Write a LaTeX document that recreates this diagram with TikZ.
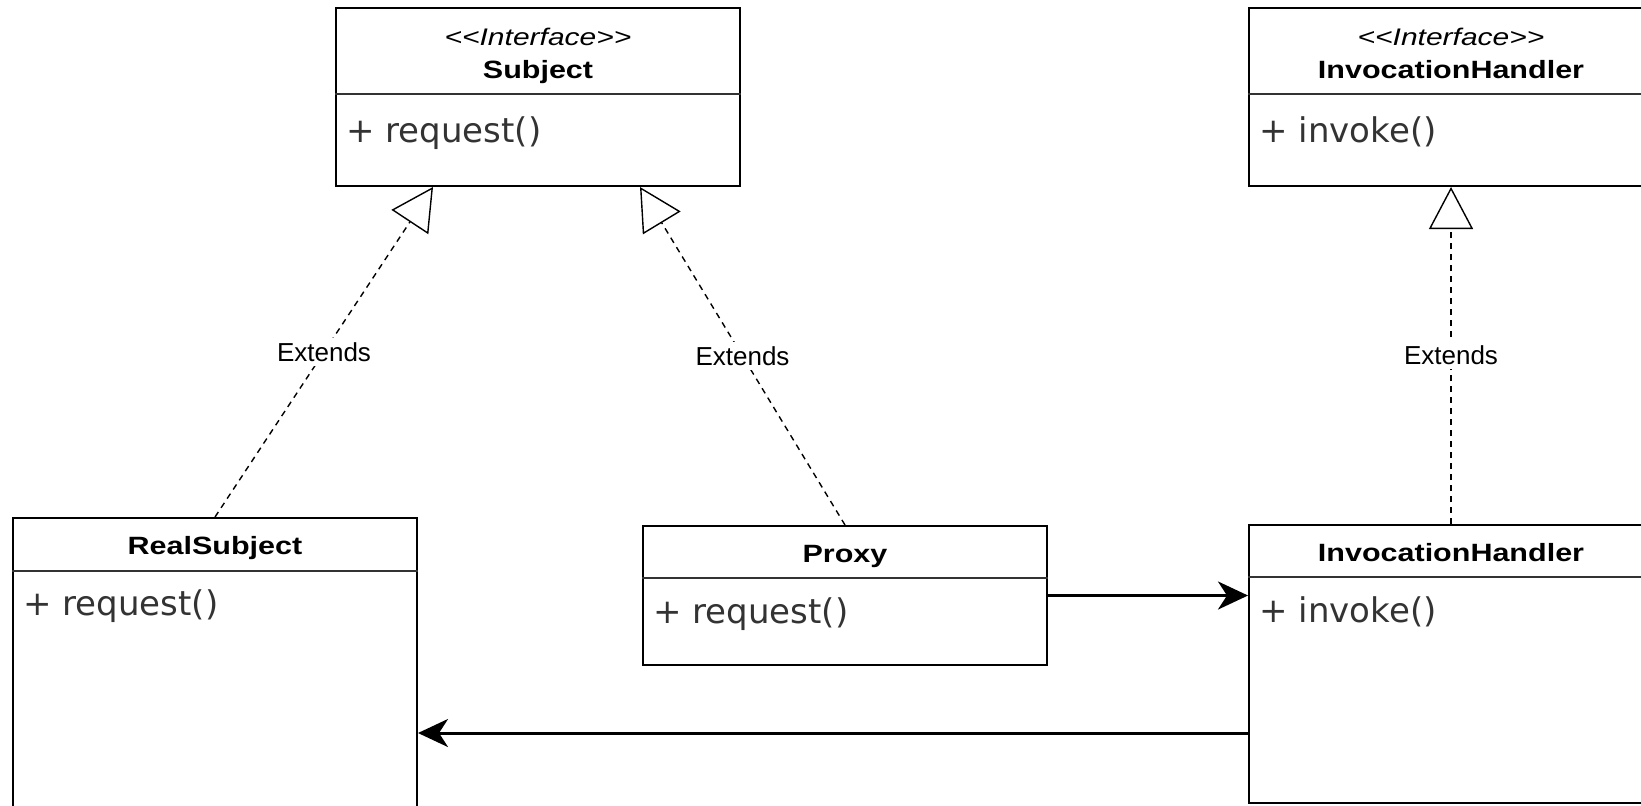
\documentclass[tikz,border=0pt]{standalone}
\usepackage{fontspec}
\setmainfont{Liberation Sans}
\newfontfamily\titlefont{Liberation Sans}[FakeStretch=1.22]
\newfontfamily\stereofont{Liberation Sans}[FakeStretch=1.25]
\newfontfamily\methodfont{DejaVu Sans}
\usetikzlibrary{arrows.meta, positioning, calc}

\begin{document}
\begin{tikzpicture}[
        x=0.5pt, y=-0.5pt,
        classbox/.style={rectangle, draw, line width=1pt, minimum width=202pt, inner sep=0pt, anchor=north west},
        divider/.style={line width=0.8pt, draw=black!80},
        stereo/.style={anchor=base, inner sep=0pt, font=\stereofont\itshape\fontsize{12}{14}\selectfont},
        classname/.style={anchor=base, inner sep=0pt, font=\titlefont\bfseries\fontsize{12.5}{15}\selectfont},
        method/.style={anchor=base west, inner sep=0pt, text=black!80, font=\methodfont\fontsize{17}{20}\selectfont},
        extends/.style={-{Triangle[open, length=21pt, width=22pt]}, dash pattern=on 3pt off 2.5pt, line width=0.7pt},
        call/.style={-{Stealth[length=15pt, width=14pt, inset=4.5pt]}, line width=1.5pt},
        tag/.style={fill=white, inner sep=2pt, font=\fontsize{13}{15}\selectfont}
    ]
        \clip (0,0) rectangle (1641,805);

        \node[classbox, minimum height=89pt] (subject) at (335,7) {};
        \node[classbox, minimum height=89pt, right=253.5pt of subject] (ihandler) {};
        \node[classbox, minimum height=159pt] (realsubject) at (12,517) {};
        \node[classbox, minimum height=69.5pt] (proxy) at (642,525) {};
        \node[classbox, minimum height=139pt, below=168.5pt of ihandler] (handler) {};

        \node[stereo] (subjectstereo) at ([yshift=-19pt]subject.north) {<<Interface>>};
        \node[classname] (subjectname) at ([yshift=-35.5pt]subject.north) {Subject};
        \draw[divider] ([yshift=-43.5pt]subject.north west) -- ([yshift=-43.5pt]subject.north east);
        \node[method] (subjectop) at ([xshift=5.5pt, yshift=-67.5pt]subject.north west) {+ request()};

        \node[stereo] (ihandlerstereo) at ([yshift=-19pt]ihandler.north) {<<Interface>>};
        \node[classname] (ihandlername) at ([yshift=-35.5pt]ihandler.north) {InvocationHandler};
        \draw[divider] ([yshift=-43.5pt]ihandler.north west) -- ([yshift=-43.5pt]ihandler.north east);
        \node[method] (ihandlerop) at ([xshift=5.5pt, yshift=-67.5pt]ihandler.north west) {+ invoke()};

        \node[classname] (realsubjectname) at ([yshift=-18.5pt]realsubject.north) {RealSubject};
        \draw[divider] ([yshift=-27pt]realsubject.north west) -- ([yshift=-27pt]realsubject.north east);
        \node[method] (realsubjectop) at ([xshift=5.5pt, yshift=-49pt]realsubject.north west) {+ request()};

        \node[classname] (proxyname) at ([yshift=-18.5pt]proxy.north) {Proxy};
        \draw[divider] ([yshift=-26.5pt]proxy.north west) -- ([yshift=-26.5pt]proxy.north east);
        \node[method] (proxyop) at ([xshift=5.5pt, yshift=-49pt]proxy.north west) {+ request()};

        \node[classname] (handlername) at ([yshift=-18.5pt]handler.north) {InvocationHandler};
        \draw[divider] ([yshift=-26.5pt]handler.north west) -- ([yshift=-26.5pt]handler.north east);
        \node[method] (handlerop) at ([xshift=5.5pt, yshift=-49pt]handler.north west) {+ invoke()};

        \draw[extends] (realsubject.north) -- node[tag] {Extends} ([xshift=49pt]subject.south west);
        \draw[extends] (proxy.north) -- node[tag] {Extends} ([xshift=-50.5pt]subject.south east);
        \draw[extends] (handler.north) -- node[tag] {Extends} (ihandler.south);
        \draw[call] (proxy.east) -- (proxy.east -| handler.west);
        \draw[call] ([yshift=-34.5pt]handler.west) -- ([yshift=-34.5pt]handler.west -| realsubject.east);
    \end{tikzpicture}
\end{document}
